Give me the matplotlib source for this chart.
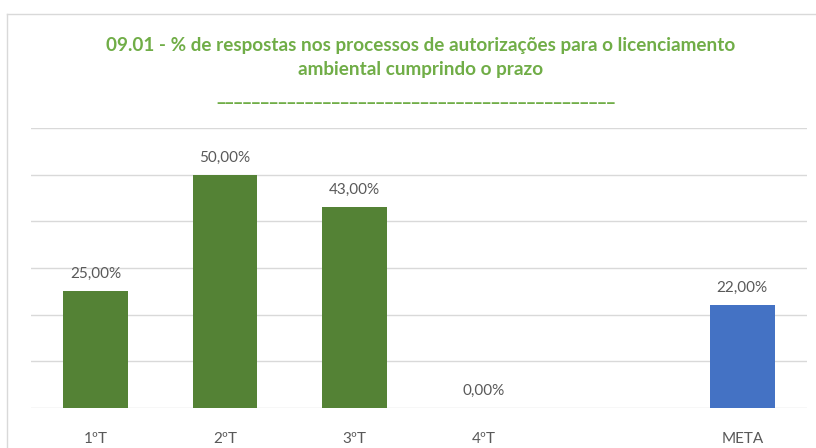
import matplotlib
matplotlib.use("Agg")
import matplotlib.pyplot as plt
from matplotlib.lines import Line2D

categories = ["1ºT", "2ºT", "3ºT", "4ºT", "", "META"]
values = [25.0, 50.0, 43.0, 0.0, None, 22.0]
labels = ["25,00%", "50,00%", "43,00%", "0,00%", "", "22,00%"]
colors = ["#548235", "#548235", "#548235", "#548235", "#548235", "#4472C4"]

plt.rcParams["font.family"] = ["Lato", "DejaVu Sans"]

fig = plt.figure(figsize=(8.16, 4.48), dpi=100)
ax = fig.add_axes([31 / 816, 1 - 408 / 448, 776 / 816, 280 / 448])

xs = range(len(categories))
for x, v, lab, c in zip(xs, values, labels, colors):
    if v is None:
        continue
    ax.bar(x, v, width=0.5, color=c, zorder=3)
    ax.text(x, v + 2.2, lab, ha="center", va="bottom", fontsize=11, color="#595959")

ax.set_xlim(-0.5, len(categories) - 0.5)
ax.set_ylim(0, 60)
ax.set_yticks(range(0, 61, 10))
ax.yaxis.grid(True, color="#D9D9D9", lw=1, zorder=0)
ax.tick_params(axis="y", left=False, labelleft=False)
ax.set_xticks(list(xs))
ax.set_xticklabels(categories, fontsize=11, color="#595959")
ax.tick_params(axis="x", bottom=False, pad=14)
for s in ax.spines.values():
    s.set_visible(False)

title_kw = dict(ha="center", va="center", fontsize=13.6, fontweight="bold", color="#70AD47")
fig.text(0.515, 1 - 45 / 448, "09.01 - % de respostas nos processos de autorizações para o licenciamento", **title_kw)
fig.text(0.515, 1 - 69 / 448, "ambiental cumprindo o prazo", **title_kw)
fig.text(0.51, 1 - 96 / 448, "_" * 45, **title_kw)

# chart frame (top and left edges visible)
fig.add_artist(Line2D([7 / 816, 7 / 816], [0, 1 - 14 / 448], transform=fig.transFigure, color="#D9D9D9", lw=1))
fig.add_artist(Line2D([7 / 816, 1], [1 - 14 / 448, 1 - 14 / 448], transform=fig.transFigure, color="#D9D9D9", lw=1))

fig.savefig("out.png", dpi=100)
